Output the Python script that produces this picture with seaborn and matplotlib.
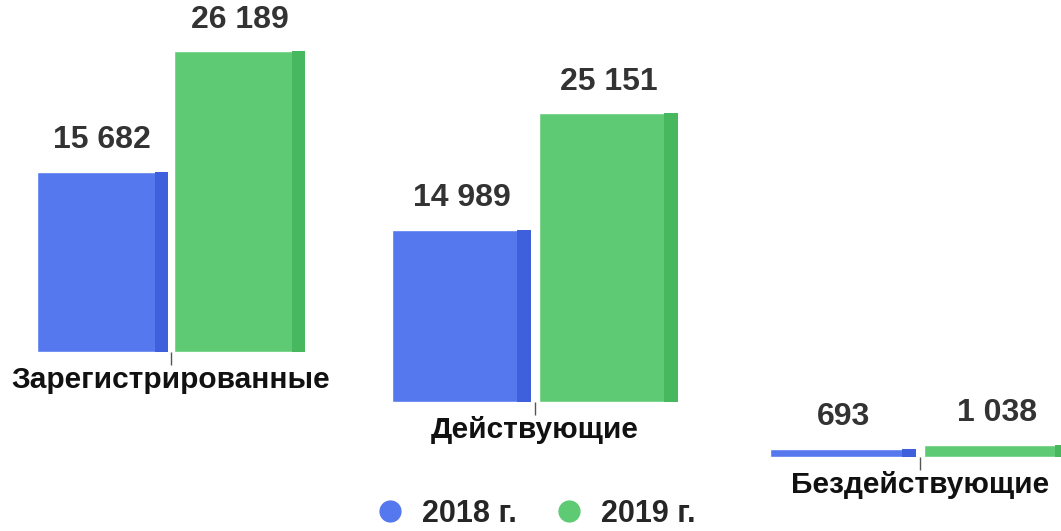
import pandas as pd
import seaborn as sns
import matplotlib.pyplot as plt
from matplotlib.lines import Line2D
from matplotlib.patches import Rectangle

categories = ['Зарегистрированные', 'Действующие', 'Бездействующие']
years = ['2018 г.', '2019 г.']
values_2018 = [15682, 14989, 693]
values_2019 = [26189, 25151, 1038]

colors = {'2018 г.': '#5578ee', '2019 г.': '#5ecb74'}
side_colors = {'2018 г.': '#3f60dc', '2019 г.': '#48b85e'}

sns.set_style('white')
plt.rcParams['font.family'] = ['Liberation Sans', 'DejaVu Sans']

fig = plt.figure(figsize=(10.61, 5.31), dpi=100)

# staircase layout: each group sits lower and further right (left, bottom, width)
boxes = [(37, 352, 268), (392, 402, 286), (770, 457, 300)]
px_h = 310

for cat, v18, v19, (left, base, w) in zip(categories, values_2018, values_2019, boxes):
    ax = fig.add_axes([left / 1061, (531 - base) / 531, w / 1061, px_h / 531])
    df = pd.DataFrame({'cat': [cat, cat], 'year': years, 'value': [v18, v19]})
    sns.barplot(data=df, x='cat', y='value', hue='year', palette=colors,
                width=0.84, gap=0.05, saturation=1, legend=False, ax=ax)
    x0 = min(p.get_x() for p in ax.patches)
    x1 = max(p.get_x() + p.get_width() for p in ax.patches)
    ax.set_xlim(x0, x1)
    ax.set_ylim(0, 27000)
    # darker right side to fake the 3d look
    for patch, yr in zip(ax.patches, years):
        d = patch.get_width() * 0.1
        ax.add_patch(Rectangle((patch.get_x() + patch.get_width() - d, 0), d,
                               patch.get_height(), color=side_colors[yr], lw=0))
    for cont in ax.containers:
        ax.bar_label(cont, labels=[f'{int(v):,}'.replace(',', ' ') for v in cont.datavalues],
                     padding=12, fontsize=23, fontweight='bold', color='#333333')
    sns.despine(ax=ax, left=True, bottom=True)
    ax.set_yticks([])
    ax.set_xlabel('')
    ax.set_ylabel('')
    ax.tick_params(axis='x', length=9, width=1, color='#555555', pad=1,
                   labelsize=21.5, direction='out', bottom=True)
    for lab in ax.get_xticklabels():
        lab.set_fontweight('bold')
        lab.set_color('#111111')

handles = [Line2D([], [], marker='o', ls='', markersize=15, color=colors[y]) for y in years]
fig.legend(handles, years, loc='center', bbox_to_anchor=(0.497, 0.032), ncol=2,
           frameon=False, prop={'size': 22, 'weight': 'bold'},
           handletextpad=0.05, columnspacing=0.7, borderpad=0.2)

plt.savefig('out.png')
